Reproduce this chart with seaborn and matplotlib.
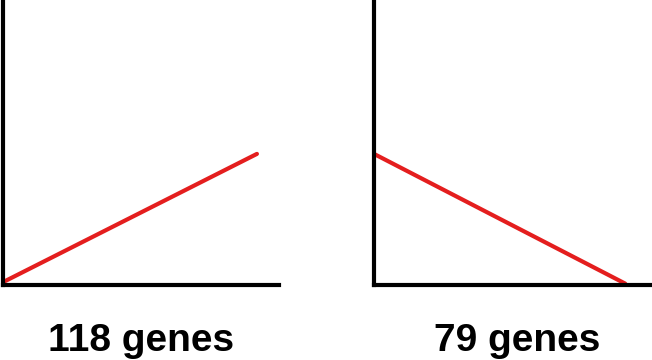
import matplotlib
matplotlib.use("Agg")
import matplotlib.pyplot as plt
import seaborn as sns
import pandas as pd

# Data (arbitrary units)
left_x = [0.0, 9.2]
left_y = [0.1, 4.6]
right_x = [0.0, 9.1]
right_y = [4.6, 0.05]
labels = ["118 genes", "79 genes"]

sns.set_theme(style="white")
plt.rcParams['font.family'] = ['Liberation Sans', 'DejaVu Sans']

fig = plt.figure(figsize=(6.52, 3.6), dpi=100)
W, H = 652, 360
ax_boxes = [(3, 279), (374, 650)]
bottom_px, top_px = 285, 0
label_offsets = [0.5, 0.52]

series = [(left_x, left_y), (right_x, right_y)]
for (l, r), (xs, ys), lab, lx in zip(ax_boxes, series, labels, label_offsets):
    ax = fig.add_axes([l / W, 1 - bottom_px / H, (r - l) / W, (bottom_px - top_px) / H])
    df = pd.DataFrame({"x": xs, "y": ys})
    sns.lineplot(data=df, x="x", y="y", ax=ax, color="#e41e1e", linewidth=3.0)
    ax.set_xlim(0, 10)
    ax.set_ylim(0, 10)
    ax.set_xticks([])
    ax.set_yticks([])
    ax.set_xlabel("")
    ax.set_ylabel("")
    for s in ["top", "right"]:
        ax.spines[s].set_visible(False)
    for s in ["left", "bottom"]:
        ax.spines[s].set_color("black")
        ax.spines[s].set_linewidth(3.0)
    ax.text(lx, -0.23, lab, transform=ax.transAxes, ha="center", va="baseline",
            fontsize=28, fontweight="bold", color="black")

fig.savefig("out.png", dpi=100, facecolor="white")
